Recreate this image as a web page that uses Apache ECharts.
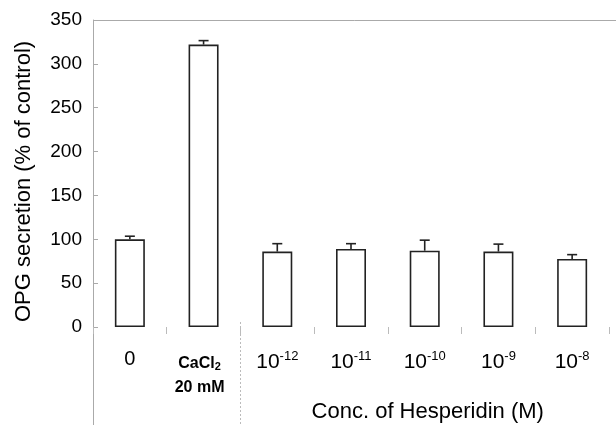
<!DOCTYPE html>
<html><head><meta charset="utf-8">
<script src="https://cdn.jsdelivr.net/npm/echarts@6/dist/echarts.min.js"></script>
<style>html,body{margin:0;padding:0;background:#fff}#c{width:616px;height:425px}</style>
</head><body><div id="c"></div>
<script>
var categories = ['0', 'CaCl2', '10^-12', '10^-11', '10^-10', '10^-9', '10^-8'];
var values = [100, 322, 86, 89, 87, 86, 77.5];
var errors = [3.5, 4.5, 9, 6, 12, 8.5, 5];
var yTicks = [0, 50, 100, 150, 200, 250, 300, 350];
var yTitle = 'OPG secretion (% of control)';
var xTitle = 'Conc. of Hesperidin (M)';
var font = 'Liberation Sans, Arial, sans-serif';

var chart = echarts.init(document.getElementById('c'), null, {renderer: 'canvas'});
function fmt(v) {
  if (v === 'CaCl2') return '{b|CaCl}{bs|2}{pad|}\n{b|20 mM}{pad|}';
  var m = v.match(/^10\^(.*)$/);
  if (m) return '{n|10}{sup|' + m[1] + '}';
  return '{z|' + v + '}';
}
var option = {
  animation: false,
  grid: {left: 93, right: 7, top: 20, bottom: 98, show: false},
  xAxis: {
    type: 'category', data: categories,
    axisLine: {show: false},
    axisTick: {show: true, length: 7, lineStyle: {color: '#bbb', width: 1}},
    axisLabel: {
      interval: 0, margin: 20, formatter: fmt, color: '#000', fontFamily: font,
      rich: {
        n: {fontSize: 21, fontFamily: font, color: '#000', lineHeight: 24, padding: [6, 0, 0, 0]},
        z: {fontSize: 20, fontFamily: font, color: '#000', lineHeight: 24},
        sup: {fontSize: 13, fontFamily: font, color: '#000', padding: [0, 0, 6, 0]},
        b: {fontSize: 16, fontWeight: 'bold', fontFamily: font, color: '#000', lineHeight: 23, padding: [8, 0, 0, 0]},
        bs: {fontSize: 11, fontWeight: 'bold', fontFamily: font, color: '#000', padding: [14, 0, 0, 0]},
        pad: {width: 8}
      }
    }
  },
  yAxis: {
    type: 'value', min: 0, max: 350, interval: 50,
    name: yTitle, nameLocation: 'middle', nameGap: 58,
    nameTextStyle: {fontSize: 22, fontFamily: font, color: '#000', padding: [0, 16, 0, 0]},
    axisLine: {show: true, lineStyle: {color: '#aaa', width: 1}},
    axisTick: {show: true, inside: true, length: 5, lineStyle: {color: '#aaa'}},
    splitLine: {show: false},
    axisLabel: {
      margin: 11, fontSize: 19, fontFamily: font, color: '#000',
      formatter: function (v) { return yTicks.indexOf(v) >= 0 ? String(v) : ''; }
    }
  },
  series: [
    {
      type: 'bar', data: values, barWidth: 30,
      itemStyle: {color: '#fff', borderColor: '#222', borderWidth: 1.6},
      z: 2
    },
    {
      type: 'custom', z: 3,
      data: values.map(function (v, i) { return [i, v, v + errors[i]]; }),
      renderItem: function (params, api) {
        var x = api.value(0);
        var p0 = api.coord([x, api.value(1)]);
        var p1 = api.coord([x, api.value(2)]);
        return {type: 'group', children: [
          {type: 'line', shape: {x1: p0[0], y1: p0[1], x2: p1[0], y2: p1[1]}, style: {stroke: '#222', lineWidth: 1.6}},
          {type: 'line', shape: {x1: p1[0] - 5, y1: p1[1], x2: p1[0] + 5, y2: p1[1]}, style: {stroke: '#222', lineWidth: 1.6}}
        ]};
      }
    }
  ]
};
chart.setOption(option);

var c0 = chart.convertToPixel({xAxisIndex: 0}, 0);
var c1 = chart.convertToPixel({xAxisIndex: 0}, 1);
var c2 = chart.convertToPixel({xAxisIndex: 0}, 2);
var bw = c1 - c0;
var leftX = Math.round(c0 - bw / 2) + 0.5;
var sepX = Math.round((c1 + c2) / 2) + 0.5;
var yTop = chart.convertToPixel({yAxisIndex: 0}, 350);
var y0 = chart.convertToPixel({yAxisIndex: 0}, 0);
var cStart = chart.convertToPixel({xAxisIndex: 0}, 2);
var cEnd = chart.convertToPixel({xAxisIndex: 0}, 6);
chart.setOption({
  graphic: [
    {type: 'line', shape: {x1: leftX, y1: Math.round(yTop) + 0.5, x2: 616, y2: Math.round(yTop) + 0.5}, style: {stroke: '#aaa', lineWidth: 1}},
    {type: 'line', shape: {x1: leftX, y1: y0, x2: leftX, y2: 425}, style: {stroke: '#aaa', lineWidth: 1}},
    {type: 'line', shape: {x1: sepX, y1: y0 - 5, x2: sepX, y2: 425}, style: {stroke: '#bbb', lineWidth: 1, lineDash: [2, 2]}},
    {type: 'text', x: (cStart + cEnd) / 2 + 3, y: 412, style: {text: xTitle, fontSize: 22, fontFamily: font, fill: '#000', textAlign: 'center', textVerticalAlign: 'middle'}}
  ]
});
</script>
</body></html>
